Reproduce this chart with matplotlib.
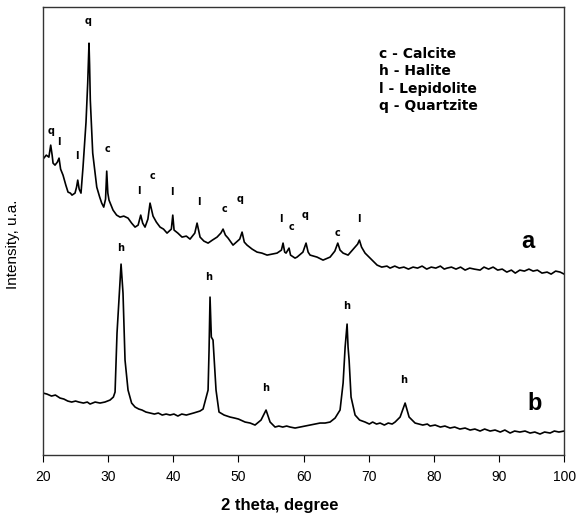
import matplotlib
matplotlib.use("Agg")
import matplotlib.pyplot as plt
import numpy as np

plt.rcParams['font.family'] = ['Liberation Sans', 'DejaVu Sans']

# sample a: mixed mineral pattern, (2theta, intensity) pairs
pattern_a = [
    (20.0, 296), (20.5, 300), (20.9, 298), (21.18, 310), (21.4, 300), (21.54, 292),
    (21.84, 290), (22.2, 293), (22.46, 297), (22.7, 286), (23.07, 280), (23.5, 270),
    (23.84, 263), (24.2, 262), (24.45, 260), (24.91, 262), (25.15, 268), (25.33, 275),
    (25.55, 266), (25.83, 262), (26.14, 288), (26.6, 333), (26.86, 372), (26.98, 395),
    (27.06, 412), (27.15, 390), (27.26, 355), (27.63, 302), (28.25, 268), (28.7, 258),
    (29.01, 252), (29.32, 248), (29.6, 256), (29.78, 284), (29.95, 262), (30.13, 255),
    (30.75, 245), (31.3, 240), (31.82, 238), (32.4, 239), (33.05, 237), (33.6, 232),
    (34.13, 228), (34.6, 230), (35.0, 240), (35.3, 232), (35.66, 228), (36.1, 236),
    (36.43, 252), (36.89, 239), (37.4, 233), (37.97, 228), (38.5, 226), (39.04, 222),
    (39.7, 226), (39.92, 240), (40.12, 225), (40.7, 222), (41.34, 218), (42.0, 219),
    (42.57, 216), (43.3, 222), (43.65, 232), (44.11, 218), (44.7, 214), (45.34, 212),
    (46.0, 215), (46.72, 218), (47.3, 222), (47.64, 226), (48.0, 220), (48.41, 217),
    (49.17, 210), (50.2, 216), (50.56, 223), (50.9, 213), (51.32, 210), (52.1, 206),
    (52.86, 203), (53.6, 202), (54.4, 200), (55.2, 201), (55.93, 202), (56.6, 205),
    (56.85, 212), (57.1, 203), (57.31, 202), (57.77, 207), (58.0, 200), (58.69, 197),
    (59.0, 198), (59.9, 203), (60.38, 212), (60.7, 203), (61.0, 200), (62.07, 198),
    (62.99, 195), (64.07, 198), (64.8, 204), (65.25, 212), (65.6, 205), (66.07, 202),
    (66.83, 200), (67.76, 207), (68.3, 211), (68.57, 215), (68.9, 208), (69.44, 202),
    (70.21, 197), (71.29, 190), (72.0, 188), (72.8, 189), (73.28, 187), (74.0, 189),
    (74.7, 187), (75.4, 188), (76.1, 186), (76.81, 188), (77.5, 187), (78.2, 189),
    (78.9, 186), (79.6, 188), (80.3, 187), (81.0, 189), (81.6, 186), (82.03, 187),
    (82.7, 188), (83.4, 186), (84.1, 188), (84.8, 185), (85.5, 187), (86.2, 186),
    (87.1, 185), (87.7, 188), (88.4, 186), (89.1, 188), (89.8, 185), (90.5, 186),
    (91.2, 183), (91.9, 185), (92.5, 182), (93.2, 185), (93.9, 184), (94.6, 186),
    (95.24, 184), (95.9, 185), (96.6, 182), (97.39, 183), (98.0, 181), (98.7, 184),
    (99.39, 183), (100.0, 181),
]

# sample b: halite pattern
pattern_b = [
    (20.0, 62), (20.6, 61), (21.3, 59), (21.9, 60), (22.61, 57), (23.2, 56),
    (23.8, 54), (24.4, 53), (25.0, 54), (25.5, 53), (26.2, 52), (26.8, 53),
    (27.22, 51), (28.0, 53), (28.75, 52), (29.5, 53), (30.29, 55), (30.8, 58),
    (31.06, 63), (31.36, 122), (31.82, 172), (31.98, 191), (32.28, 162), (32.59, 95),
    (33.05, 65), (33.6, 52), (34.13, 48), (34.7, 46), (35.2, 45), (35.8, 43),
    (36.43, 42), (37.1, 41), (37.7, 42), (38.3, 40), (38.9, 41), (39.5, 40),
    (40.1, 41), (40.7, 39), (41.3, 41), (42.0, 40), (42.57, 41), (43.1, 42),
    (43.6, 43), (44.1, 44), (44.57, 46), (45.34, 65), (45.49, 105), (45.64, 158),
    (45.84, 118), (46.1, 115), (46.56, 65), (47.02, 43), (47.8, 40), (48.71, 38),
    (49.4, 37), (50.0, 36), (51.02, 33), (51.8, 32), (52.55, 30), (53.47, 35),
    (54.24, 45), (54.86, 33), (55.62, 28), (56.2, 29), (56.8, 28), (57.4, 29),
    (57.93, 28), (58.7, 27), (59.46, 28), (60.2, 29), (61.0, 30), (61.8, 31),
    (62.53, 32), (63.3, 32), (64.07, 33), (64.84, 37), (65.6, 45), (66.07, 72),
    (66.38, 108), (66.68, 131), (66.83, 108), (66.99, 95), (67.29, 58), (67.91, 40),
    (68.6, 35), (69.44, 33), (70.1, 31), (70.6, 33), (71.2, 31), (71.75, 32),
    (72.4, 30), (73.0, 32), (73.6, 31), (74.05, 33), (74.82, 38), (75.59, 52),
    (76.2, 38), (77.12, 32), (77.7, 31), (78.3, 30), (79.0, 31), (79.42, 29),
    (80.2, 30), (81.0, 28), (81.7, 29), (82.49, 27), (83.2, 28), (84.0, 26),
    (84.8, 27), (85.57, 25), (86.3, 26), (87.1, 24), (87.8, 26), (88.64, 24),
    (89.4, 25), (90.2, 23), (90.9, 25), (91.71, 22), (92.4, 24), (93.2, 23),
    (94.0, 24), (94.78, 22), (95.5, 23), (96.3, 21), (97.0, 23), (97.85, 22),
    (98.5, 24), (99.2, 23), (100.0, 24),
]

# phase labels placed above the reflections
labels_a = ['q', 'l', 'l', 'q', 'c', 'l', 'c', 'l', 'l', 'c', 'q', 'l', 'c', 'q', 'c', 'l']
label_x_a = [21.18, 22.5, 25.22, 26.86, 29.83, 34.74, 36.74, 39.81, 43.95, 47.79,
             50.25, 56.54, 58.08, 60.23, 65.14, 68.52]
label_y_a = [324, 313, 299, 434, 306, 264, 279, 263, 253, 246, 256, 236, 228, 240, 222, 236]

labels_b = ['h', 'h', 'h', 'h', 'h']
label_x_b = [31.98, 45.49, 54.24, 66.68, 75.43]
label_y_b = [207, 178, 67, 149, 75]

phases = ['c - Calcite', 'h - Halite', 'l - Lepidolite', 'q - Quartzite']

xa, ya = np.array(pattern_a).T
xb, yb = np.array(pattern_b).T

fig = plt.figure(figsize=(5.79, 5.13), dpi=100)
ax = fig.add_axes([0.0743, 0.113, 0.9, 0.873])

ax.plot(xa, ya, color='black', lw=1.2)
ax.plot(xb, yb, color='black', lw=1.2)

for s, x, y in zip(labels_a, label_x_a, label_y_a):
    ax.text(x, y, s, ha='center', va='center', fontsize=7, fontweight='bold',
            family='DejaVu Sans')
for s, x, y in zip(labels_b, label_x_b, label_y_b):
    ax.text(x, y, s, ha='center', va='center', fontsize=7, fontweight='bold',
            family='DejaVu Sans')

for i, p in enumerate(phases):
    ax.text(71.6, 401 - i * 17.3, p, ha='left', va='center', fontsize=10,
            fontweight='bold', family='DejaVu Sans')

ax.text(94.4, 214, 'a', ha='center', va='center', fontsize=17, fontweight='bold')
ax.text(95.4, 52, 'b', ha='center', va='center', fontsize=17, fontweight='bold')

ax.set_xlim(20, 100)
ax.set_ylim(0, 448)
ax.set_xticks(np.arange(20, 101, 10))
ax.set_yticks([])
ax.tick_params(axis='x', direction='out', length=5, labelsize=10, pad=6)
for sp in ax.spines.values():
    sp.set_linewidth(1.0)
    sp.set_color('#333333')

ax.set_xlabel('2 theta, degree', fontsize=12, fontweight='bold')
ax.xaxis.set_label_coords(0.455, -0.095)
ax.set_ylabel('Intensity, u.a.', fontsize=11)
ax.yaxis.set_label_coords(-0.045, 0.47)

fig.savefig('out.png', dpi=100)
